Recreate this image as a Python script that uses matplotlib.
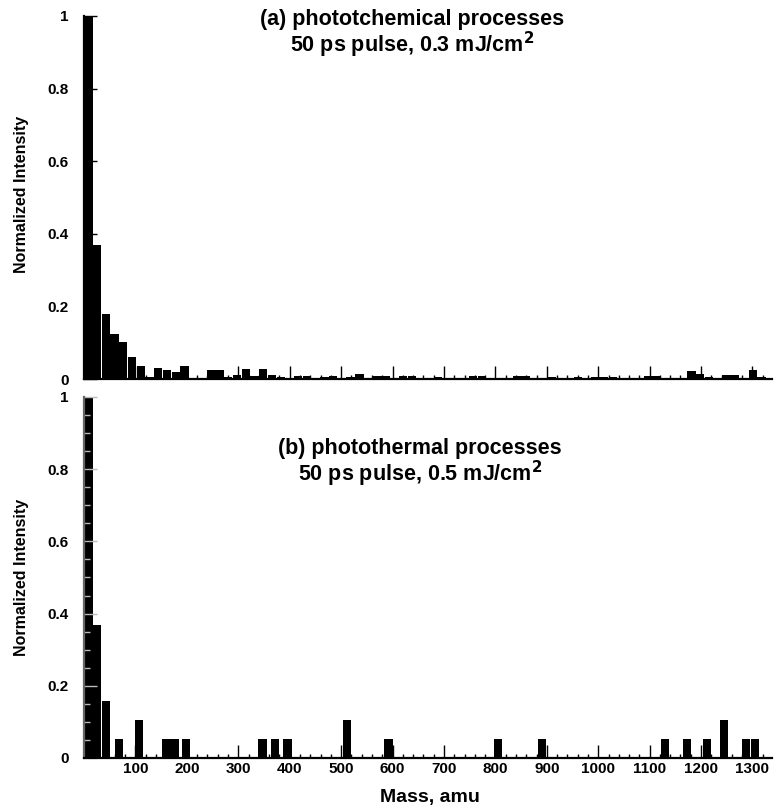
import matplotlib.pyplot as plt
import numpy as np

barColor = "#000000"
binWidth = 17  # amu per histogram bin

# (a) photochemical processes, one height per 17 amu bin starting at 0 amu
chemHeights = [1.0, 0.37, 0.18, 0.123, 0.103, 0.061, 0.036, 0.005, 0.030, 0.025,
               0.020, 0.036, 0.004, 0.004, 0.025, 0.025, 0.005, 0.012, 0.027, 0.008,
               0.027, 0.010, 0.006, 0.003, 0.007, 0.007, 0.003, 0.005, 0.008, 0.004,
               0.006, 0.015, 0.004, 0.008, 0.008, 0.003, 0.008, 0.008, 0.003, 0.004,
               0.005, 0.003, 0.004, 0.003, 0.008, 0.008, 0.003, 0.004, 0.003, 0.007,
               0.007, 0.003, 0.004, 0.005, 0.004, 0.003, 0.005, 0.004, 0.006, 0.006,
               0.006, 0.003, 0.004, 0.003, 0.008, 0.008, 0.003, 0.004, 0.003, 0.022,
               0.013, 0.005, 0.003, 0.010, 0.010, 0.004, 0.024, 0.005]
chemMasses = np.arange(len(chemHeights)) * binWidth + binWidth / 2

# (b) photothermal processes, only the occupied bins
thermMasses = [8.5, 25.5, 42.5, 68, 107, 159, 176, 198, 347, 371, 396, 511, 592,
               805, 890, 1130, 1172, 1212, 1245, 1288, 1305]
thermHeights = [1.0, 0.368, 0.158, 0.053, 0.105, 0.053, 0.053, 0.053, 0.053, 0.053,
                0.053, 0.105, 0.053, 0.053, 0.053, 0.053, 0.053, 0.053, 0.105, 0.053,
                0.053]

yTicks = [0, 0.2, 0.4, 0.6, 0.8, 1]
yLabels = ["0", "0.2", "0.4", "0.6", "0.8", "1"]
xTicks = list(range(100, 1400, 100))

plt.rcParams['font.family'] = ['Liberation Sans', 'DejaVu Sans']

fig = plt.figure(figsize=(7.77, 8.08), dpi=100)
ax1 = fig.add_axes([0.1081, 0.5309, 0.8855, 0.4493])
ax2 = fig.add_axes([0.1081, 0.0619, 0.8855, 0.4468])

ax1.bar(chemMasses, chemHeights, width=binWidth * 0.95, color=barColor, linewidth=0)
ax2.bar(thermMasses, thermHeights, width=binWidth * 0.95, color=barColor, linewidth=0)

for ax in (ax1, ax2):
    ax.set_xlim(0, 1338)
    ax.set_ylim(0, 1)
    ax.spines['top'].set_visible(False)
    ax.spines['right'].set_visible(False)
    ax.spines['bottom'].set_linewidth(1.6)
    ax.spines['left'].set_linewidth(1.6)
    ax.set_xticks(xTicks)
    ax.set_xticks(np.arange(0, 1340, 20), minor=True)
    ax.set_yticks(yTicks)
    ax.set_yticklabels(yLabels, fontweight='bold', fontsize=11)
    ax.tick_params(axis='x', which='major', direction='in', length=9.5, width=1)
    ax.tick_params(axis='x', which='minor', direction='in', length=3, width=1)
    ax.tick_params(axis='y', which='major', direction='in', length=9, width=1, pad=11)

ax1.tick_params(axis='x', which='both', labelbottom=False)
ax2.set_xticklabels([str(t) for t in xTicks], fontweight='bold', fontsize=11)
ax2.tick_params(axis='x', which='major', pad=3)

# light tick marks running over the first bar in panel (b)
ax2.set_yticks(np.arange(0, 1.01, 0.05), minor=True)
ax2.tick_params(axis='y', which='minor', direction='in', length=4, width=1, color='#bbbbbb')
ax2.tick_params(axis='y', which='major', color='#bbbbbb')
ax2.spines['left'].set_color('#666666')

ax1.text(0.477, 0.949, "(a) phototchemical processes\n50 ps pulse, 0.3 mJ/cm$^\\mathbf{2}$",
         transform=ax1.transAxes, ha='center', va='center', multialignment='center',
         fontsize=15.5, fontweight='bold', linespacing=1.0)
ax2.text(0.488, 0.815, "(b) photothermal processes\n50 ps pulse, 0.5 mJ/cm$^\\mathbf{2}$",
         transform=ax2.transAxes, ha='center', va='center', multialignment='center',
         fontsize=15.5, fontweight='bold', linespacing=1.0)

fig.text(0.028, 0.759, "Normalized Intensity", rotation=90, ha='center', va='center',
         fontsize=11.5, fontweight='bold')
fig.text(0.028, 0.285, "Normalized Intensity", rotation=90, ha='center', va='center',
         fontsize=11.5, fontweight='bold')
fig.text(0.553, 0.013, "Mass, amu", ha='center', va='center', fontsize=14, fontweight='bold')

fig.savefig("out.png", dpi=100)
